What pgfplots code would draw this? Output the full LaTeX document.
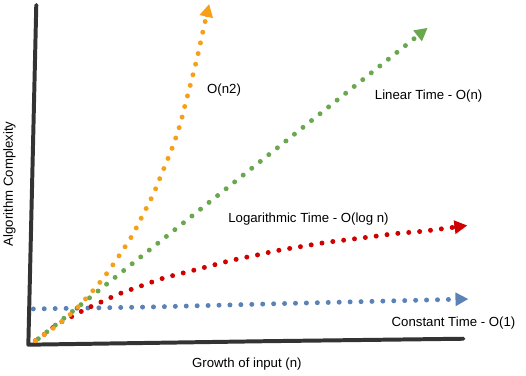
\documentclass[border=0pt]{standalone}
\usepackage{pgfplots}
\pgfplotsset{compat=1.18}
\usetikzlibrary{arrows.meta}
\usepackage{fontspec}
\setmainfont{Liberation Sans}
\definecolor{cOrange}{HTML}{F6A01A}
\definecolor{cGreen}{HTML}{6AA84F}
\definecolor{cRed}{HTML}{D00000}
\definecolor{cBlue}{HTML}{5B82B6}
\definecolor{cAxis}{HTML}{333333}
\begin{document}
\begin{tikzpicture}
\begin{axis}[hide axis, scale only axis, width=526pt, height=378pt,
  xmin=0, xmax=526, ymin=0, ymax=378, y dir=reverse, clip=false]
\path (rel axis cs:0,0) rectangle (rel axis cs:1,1);
% axes
\addplot[cAxis, line width=4pt, line cap=round, line join=round] coordinates {(33,5) (25,347) (263,343.5) (463,341)};
% dotted series
\pgfplotsset{dots/.style={line width=5pt, line cap=round, dash pattern=on 0pt off 11pt}}
\addplot[dots, cBlue, -{Triangle[length=13pt,width=13pt]}] coordinates {(30,311) (150,309) (265,306) (468,301)};
\addplot[dots, cRed, smooth, -{Triangle[length=13pt,width=13pt]}] coordinates {
(32,343) (42,336) (52,328) (62,322) (72,317) (83,311) (94,306) (116,296) (138,288) (161,280) (184,274) (207,268) (230,262) (254,257) (277,252) (301,248) (325,244) (349,241) (373,238) (396,235) (420,233) (444,230) (467,227)};
\addplot[dots, cGreen, -{Triangle[length=13pt,width=13pt]}] coordinates {(35,341) (427,28)};
\addplot[dots, cOrange, smooth, -{Triangle[length=13pt,width=13pt]}] coordinates {
(32,343) (52,329) (70,314) (87,296) (102,278) (116,258) (129,238) (140,217) (151,195) (160,173) (169,151) (177,128) (183,105) (189,82) (195,58) (200,35) (207,4)};
% labels
\node[font=\fontsize{13.3}{15}\selectfont] at (axis cs:222,91) {O(n2)};
\node[font=\fontsize{13.3}{15}\selectfont] at (axis cs:428,97) {Linear Time - O(n)};
\node[font=\fontsize{13.3}{15}\selectfont] at (axis cs:307,221) {Logarithmic Time - O(log n)};
\node[font=\fontsize{13.3}{15}\selectfont] at (axis cs:453,325) {Constant Time - O(1)};
\node[font=\fontsize{13.3}{15}\selectfont] at (axis cs:245,367) {Growth of input (n)};
\node[font=\fontsize{13.3}{15}\selectfont, rotate=90] at (axis cs:6,185) {Algorithm Complexity};
\end{axis}
\end{tikzpicture}
\end{document}
